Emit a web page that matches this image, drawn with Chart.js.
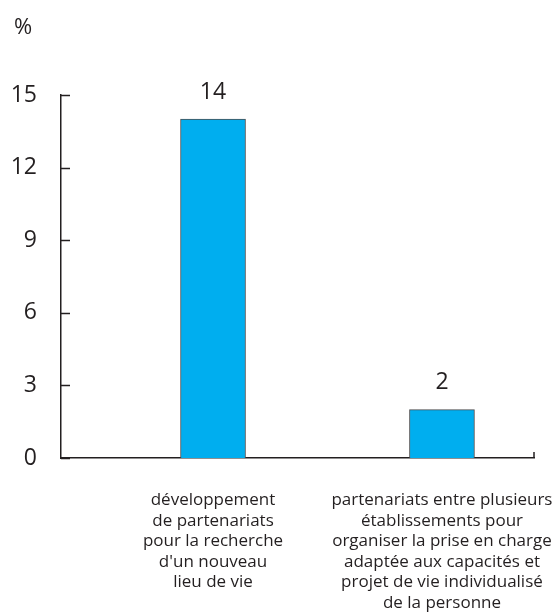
<!DOCTYPE html>
<html>
<head>
<meta charset="utf-8">
<script src="https://cdn.jsdelivr.net/npm/chart.js@4"></script>
<style>
  html, body { margin: 0; padding: 0; background: #fff; }
  #wrap { width: 560px; height: 613px; }
</style>
</head>
<body>
<div id="wrap"><canvas id="c" width="560" height="613"></canvas></div>
<script>
// Category labels (multi-line) and percentages
const categories = [
  ["développement", "de partenariats", "pour la recherche", "d'un nouveau", "lieu de vie"],
  ["partenariats entre plusieurs", "établissements pour", "organiser la prise en charge", "adaptée aux capacités et", "projet de vie individualisé", "de la personne"]
];
const values = [14, 2];
const yTicks = [0, 3, 6, 9, 12, 15];
const unitLabel = "%";

const ink = "#231f20";
const fontFamily = "'Open Sans', 'Noto Sans', sans-serif";

// Draws inward tick marks, the unit label and the value labels above bars
const decorations = {
  id: "decorations",
  afterDraw(chart) {
    const ctx = chart.ctx;
    const y = chart.scales.y;
    const area = chart.chartArea;
    ctx.save();
    ctx.strokeStyle = ink;
    ctx.lineWidth = 1.5;
    y.ticks.forEach(t => {
      const py = Math.round(y.getPixelForValue(t.value)) + 0.5;
      ctx.beginPath();
      ctx.moveTo(area.left, py);
      ctx.lineTo(area.left + 9, py);
      ctx.stroke();
    });
    ctx.beginPath();
    ctx.moveTo(area.right, area.bottom);
    ctx.lineTo(area.right, area.bottom - 6);
    ctx.stroke();

    ctx.fillStyle = ink;
    ctx.font = "22px " + fontFamily;
    ctx.textAlign = "left";
    ctx.textBaseline = "middle";
    ctx.fillText(unitLabel, 14, 28);

    const meta = chart.getDatasetMeta(0);
    ctx.textAlign = "center";
    ctx.font = "23px " + fontFamily;
    meta.data.forEach((bar, i) => {
      ctx.fillText(String(values[i]), bar.x, bar.y - 27);
    });
    ctx.restore();
  }
};

new Chart(document.getElementById("c"), {
  type: "bar",
  data: {
    datasets: [{
      data: values.map((v, i) => ({ x: i, y: v })),
      backgroundColor: "#00aeef",
      borderColor: "#4d4d4f",
      borderWidth: 1,
      barThickness: 65
    }]
  },
  options: {
    responsive: false,
    animation: false,
    layout: { padding: { top: 95, right: 26, left: 0, bottom: 0 } },
    plugins: { legend: { display: false }, tooltip: { enabled: false } },
    scales: {
      x: {
        type: "linear",
        offset: false,
        min: -0.664,
        max: 1.402,
        afterBuildTicks(scale) {
          scale.ticks = categories.map((_, i) => ({ value: i }));
        },
        afterFit(scale) {
          scale.height = 155;
          scale.paddingLeft = 0;
          scale.paddingRight = 0;
        },
        grid: { display: false, drawTicks: false, offset: false },
        border: { display: true, color: ink, width: 1.5 },
        ticks: {
          autoSkip: false,
          maxRotation: 0,
          padding: 32,
          color: ink,
          font: { family: fontFamily, size: 17, lineHeight: 1.21 },
          callback: (v) => categories[v] || ""
        }
      },
      y: {
        min: 0,
        max: 15,
        afterBuildTicks(scale) {
          scale.ticks = yTicks.map(v => ({ value: v }));
        },
        afterFit(scale) { scale.width = 61; },
        grid: { display: false, drawTicks: false },
        border: { display: true, color: ink, width: 1.5 },
        ticks: {
          padding: 24,
          color: ink,
          font: { family: fontFamily, size: 23 }
        }
      }
    }
  },
  plugins: [decorations]
});
</script>
</body>
</html>
